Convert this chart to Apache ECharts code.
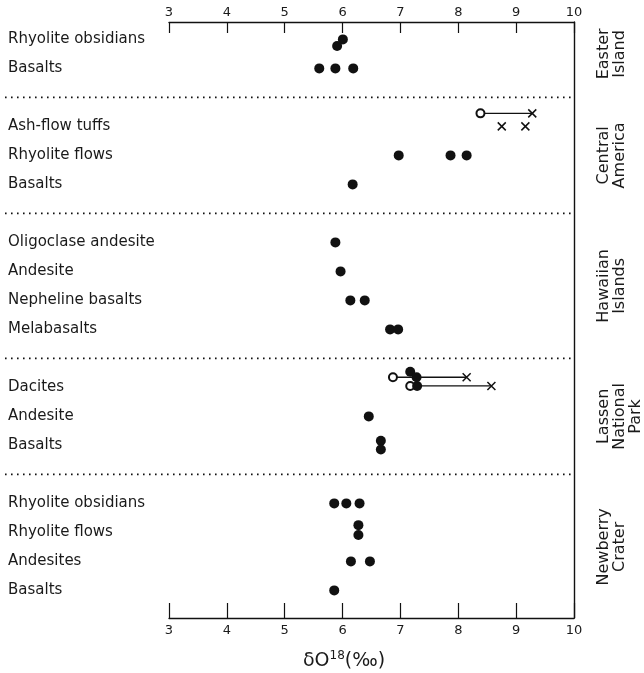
<!DOCTYPE html>
<html>
<head>
<meta charset="utf-8">
<script src="https://cdn.jsdelivr.net/npm/echarts@6/dist/echarts.min.js"></script>
<style>
html,body{margin:0;padding:0;background:#fff;}
#chart{width:644px;height:673px;}
</style>
</head>
<body>
<div id="chart"></div>
<script>
// ---- Data ----
const xTicks = [3, 4, 5, 6, 7, 8, 9, 10];
const rowLabels = [
  'Rhyolite obsidians', 'Basalts', '',
  'Ash-flow tuffs', 'Rhyolite flows', 'Basalts', '',
  'Oligoclase andesite', 'Andesite', 'Nepheline basalts', 'Melabasalts', '',
  'Dacites', 'Andesite', 'Basalts', '',
  'Rhyolite obsidians', 'Rhyolite flows', 'Andesites', 'Basalts'
];
const groupLabels = ['Easter\nIsland', 'Central\nAmerica', 'Hawaiian\nIslands', 'Lassen\nNational\nPark', 'Newberry\nCrater'];
const groupCenters = [0.5, 4, 8.5, 13, 17.5];
const separatorRows = [2, 6, 11, 15];
// [delta O18, row position]
const filledPoints = [
  [6.02, 0], [5.92, 0.23],
  [5.61, 1], [5.89, 1], [6.20, 1],
  [6.99, 4], [7.89, 4], [8.17, 4],
  [6.19, 5],
  [5.89, 7],
  [5.98, 8],
  [6.15, 9], [6.40, 9],
  [6.84, 10], [6.98, 10],
  [7.19, 11.46], [7.30, 11.65], [7.31, 11.95],
  [6.47, 13],
  [6.68, 13.84], [6.68, 14.14],
  [5.87, 16], [6.08, 16], [6.31, 16],
  [6.29, 16.75], [6.29, 17.09],
  [6.16, 18], [6.49, 18],
  [5.87, 19]
];
const openPoints = [[8.41, 2.55], [6.89, 11.65], [7.19, 11.95]];
const crossPoints = [[9.31, 2.55], [8.78, 3], [9.19, 3], [8.17, 11.65], [8.60, 11.95]];
// [from, to, row]
const ranges = [[8.41, 9.31, 2.55], [6.89, 8.17, 11.65], [7.19, 8.60, 11.95]];

// ---- Chart ----
const ink = '#111';
const textColor = '#1a1a1a';
const font = 'DejaVu Sans';

const chart = echarts.init(document.getElementById('chart'), null, {renderer: 'canvas'});

const series = [];
separatorRows.forEach(r => {
  series.push({
    type: 'line', xAxisIndex: 3, yAxisIndex: 3, silent: true,
    data: [[0, r], [1, r]],
    symbol: 'none',
    lineStyle: {color: ink, width: 1.6, type: [1.6, 4.4]},
    z: 1
  });
});
ranges.forEach(r => {
  series.push({
    type: 'line', xAxisIndex: 2, yAxisIndex: 1, silent: true,
    data: [[r[0], r[2]], [r[1], r[2]]],
    symbol: 'none',
    lineStyle: {color: ink, width: 1.3},
    z: 2
  });
});
series.push({
  type: 'scatter', xAxisIndex: 2, yAxisIndex: 1, clip: false,
  data: filledPoints, symbol: 'circle', symbolSize: 10,
  itemStyle: {color: ink, opacity: 1}, z: 4
});
series.push({
  type: 'scatter', xAxisIndex: 2, yAxisIndex: 1, clip: false,
  data: openPoints, symbol: 'emptyCircle', symbolSize: 8,
  itemStyle: {color: ink, borderColor: ink, borderWidth: 1.4, opacity: 1}, z: 3
});
series.push({
  type: 'scatter', xAxisIndex: 2, yAxisIndex: 1, clip: false,
  data: crossPoints, symbol: 'path://M0,0L10,10M10,0L0,10', symbolSize: 8,
  itemStyle: {color: 'none', borderColor: ink, borderWidth: 1.5, opacity: 1}, z: 4
});

const option = {
  animation: false,
  backgroundColor: '#fff',
  title: {
    text: '{a|δO}{s|18}{a|(‰)}',
    left: 298, top: 645,
    textStyle: {
      fontWeight: 'normal',
      rich: {
        a: {fontFamily: font, fontSize: 19, fontWeight: 'normal', color: textColor, lineHeight: 22},
        s: {fontFamily: font, fontSize: 12, fontWeight: 'normal', color: textColor, verticalAlign: 'top', lineHeight: 22}
      }
    }
  },
  grid: [
    {left: 169, right: 70, top: 22, bottom: 55},
    {left: 169, right: 70, top: 39.4, bottom: 82.6},
    {left: 5, right: 70, top: 39.4, bottom: 82.6}
  ],
  xAxis: [
    {
      gridIndex: 0, type: 'value', position: 'top', min: 3, max: 10, interval: 1,
      axisLine: {show: true, onZero: false, lineStyle: {color: ink, width: 1.4}},
      axisTick: {show: true, inside: true, length: 11, lineStyle: {color: ink, width: 1.2}},
      axisLabel: {margin: 3, fontFamily: font, fontSize: 13, color: textColor,
        formatter: v => xTicks.indexOf(v) >= 0 ? String(v) : ''},
      splitLine: {show: false}
    },
    {
      gridIndex: 0, type: 'value', position: 'bottom', min: 3, max: 10, interval: 1,
      axisLine: {show: true, onZero: false, lineStyle: {color: ink, width: 1.4}},
      axisTick: {show: true, inside: true, length: 15, lineStyle: {color: ink, width: 1.2}},
      axisLabel: {margin: 6, fontFamily: font, fontSize: 13, color: textColor,
        formatter: v => xTicks.indexOf(v) >= 0 ? String(v) : ''},
      splitLine: {show: false}
    },
    {gridIndex: 1, type: 'value', min: 3, max: 10, show: false},
    {gridIndex: 2, type: 'value', min: 0, max: 1, show: false}
  ],
  yAxis: [
    {
      gridIndex: 0, type: 'value', position: 'right', min: 0, max: 1,
      axisLine: {show: true, onZero: false, lineStyle: {color: ink, width: 1.4}},
      axisTick: {show: false}, axisLabel: {show: false}, splitLine: {show: false}
    },
    {
      gridIndex: 1, type: 'value', position: 'left', inverse: true, min: 0, max: 19, interval: 1,
      axisLine: {show: false}, axisTick: {show: false}, splitLine: {show: false},
      axisLabel: {
        margin: 161, align: 'left', fontFamily: font, fontSize: 15, color: textColor,
        padding: [2, 0, 0, 0],
        formatter: v => rowLabels[Math.round(v)] || ''
      }
    },
    {
      gridIndex: 1, type: 'value', position: 'right', inverse: true, min: 0, max: 19, interval: 0.5,
      axisLine: {show: false}, axisTick: {show: false}, splitLine: {show: false},
      axisLabel: {
        margin: 24, rotate: 90, fontFamily: font, fontSize: 16, lineHeight: 16, color: textColor,
        formatter: v => {
          const i = groupCenters.findIndex(c => Math.abs(c - v) < 1e-6);
          return i >= 0 ? groupLabels[i] : '';
        }
      }
    },
    {gridIndex: 2, type: 'value', inverse: true, min: 0, max: 19, show: false}
  ],
  series: series
};
chart.setOption(option);
</script>
</body>
</html>
